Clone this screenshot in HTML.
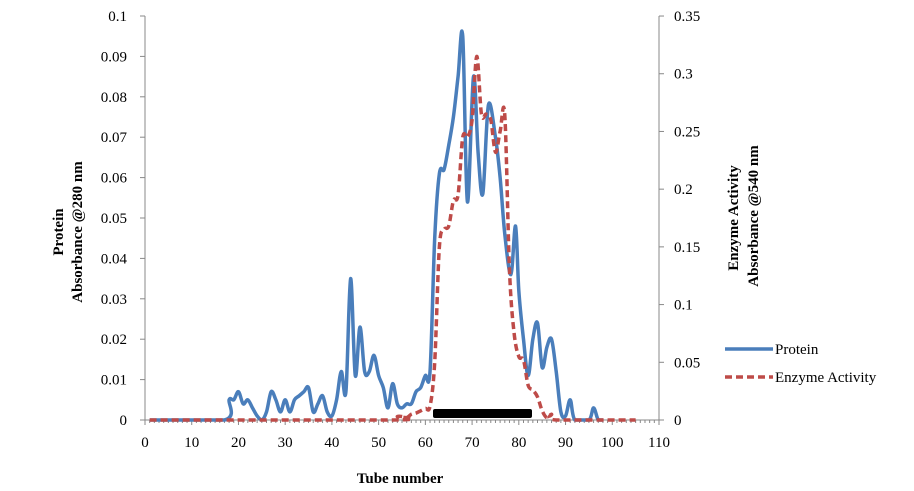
<!DOCTYPE html>
<html><head><meta charset="utf-8"><style>
body{margin:0;background:#fff}
svg{display:block;font-family:"Liberation Serif",serif}
</style></head><body>
<svg id="s" width="914" height="491" viewBox="0 0 914 491" xmlns="http://www.w3.org/2000/svg">
<g stroke="#888" stroke-width="1" fill="none">
<line x1="145" y1="16" x2="145" y2="420"/>
<line x1="659" y1="16" x2="659" y2="420"/>
<line x1="145" y1="420" x2="659" y2="420"/>
<g id="ticks"></g>
</g>
<g font-size="15" fill="#000" id="labels"></g>
<text font-size="15" font-weight="bold" transform="translate(63,232) rotate(-90)" text-anchor="middle">Protein</text>
<text font-size="15" font-weight="bold" transform="translate(82,232) rotate(-90)" text-anchor="middle">Absorbance @280 nm</text>
<text font-size="15" font-weight="bold" transform="translate(738,218) rotate(-90)" text-anchor="middle">Enzyme Activity</text>
<text font-size="15" font-weight="bold" transform="translate(758,216) rotate(-90)" text-anchor="middle">Absorbance @540 nm</text>
<text font-size="15" font-weight="bold" x="400" y="483" text-anchor="middle">Tube number</text>
<rect x="433" y="409" width="99" height="9" rx="2" fill="#000"/>
<path id="pr" fill="none" stroke="#4a7ebb" stroke-width="3.5" stroke-linejoin="round"/>
<path id="en" fill="none" stroke="#be4b48" stroke-width="3.5" stroke-dasharray="7,4"/>
<line x1="725" y1="349" x2="773" y2="349" stroke="#4a7ebb" stroke-width="3.5"/>
<line x1="725" y1="377" x2="773" y2="377" stroke="#be4b48" stroke-width="3.5" stroke-dasharray="7,4"/>
<text font-size="15" x="775" y="354">Protein</text>
<text font-size="15" x="775" y="382">Enzyme Activity</text>
</svg>
<script>
const X=t=>145+t*4.6727, Yp=v=>420-v*4040, Ye=v=>420-v*1154.3;
let tk='',lb='';
for(let i=0;i<=10;i++){let y=420-i*40.4;tk+=`<line x1="140" y1="${y}" x2="145" y2="${y}"/>`;lb+=`<text x="127" y="${y+5}" text-anchor="end">${i==0?'0':i==10?'0.1':(i/100).toFixed(2)}</text>`;}
for(let i=0;i<=7;i++){let y=420-i*57.71;tk+=`<line x1="659" y1="${y}" x2="664" y2="${y}"/>`;let v=+(i*0.05).toFixed(2);lb+=`<text x="674" y="${y+5}">${v}</text>`;}
for(let t=0;t<=110;t++){tk+=`<line x1="${X(t)}" y1="420" x2="${X(t)}" y2="${t%10==0?425:423}"/>`;if(t%10==0)lb+=`<text x="${X(t)}" y="447" text-anchor="middle">${t}</text>`;}
document.getElementById('ticks').innerHTML=tk;document.getElementById('labels').innerHTML=lb;
const P=[[1,0],[17,0],[18,.005],[19,.005],[20,.007],[21,.004],[22,.005],[23,.003],[24,.001],[25,0],[26,.002],[27,.007],[28,.005],[29,.002],[30,.005],[31,.002],[32,.005],[33,.006],[34,.007],[35,.008],[36,.002],[37,.004],[38,.006],[39,.002],[40,.001],[41,.005],[42,.012],[43,.007],[44,.035],[45,.011],[46,.023],[47,.012],[48,.012],[49,.016],[50,.011],[51,.008],[52,.003],[53,.009],[54,.004],[55,.003],[56,.004],[57,.004],[58,.007],[59,.008],[60,.011],[61,.012],[62,.045],[63,.061],[64,.062],[65,.068],[66,.075],[67,.085],[68,.095],[69,.054],[70.3,.085],[71.3,.066],[72.3,.056],[73.5,.078],[75,.07],[76,.06],[77,.046],[78.3,.036],[79.3,.048],[80,.032],[81,.02],[82,.011],[83,.02],[84,.024],[85,.013],[86,.018],[87,.02],[88,.012],[89,.002],[90,.001],[91,.005],[92,0],[95,0],[96,.003],[97,0],[98,0]];
const E=[[1,0],[53,0],[54,.003],[55,.003],[56,.002],[57,.005],[58,.006],[59,.008],[60,.01],[61,.012],[62,.05],[63,.15],[64,.165],[65,.168],[66,.19],[67,.195],[68,.245],[69,.245],[70,.26],[71,.315],[72,.265],[73,.265],[74,.26],[75,.232],[76,.25],[77,.264],[78,.13],[79,.075],[80,.055],[81,.052],[82,.03],[83,.026],[84,.02],[85,.008],[86,.002],[87,.005],[88,0],[105,0]];
function path(d,Y){let p=d.map(a=>[X(a[0]),Y(a[1])]);const c0=v=>Math.min(v,420);let s=`M${p[0]}`;for(let i=0;i<p.length-1;i++){let a=p[i-1]||p[i],b=p[i],c=p[i+1],e=p[i+2]||c;s+=`C${b[0]+(c[0]-a[0])/6},${c0(b[1]+(c[1]-a[1])/6)} ${c[0]-(e[0]-b[0])/6},${c0(c[1]-(e[1]-b[1])/6)} ${c[0]},${c[1]}`;}return s;}
document.getElementById('pr').setAttribute('d',path(P,Yp));
document.getElementById('en').setAttribute('d',path(E,Ye));
</script>
</body></html>
